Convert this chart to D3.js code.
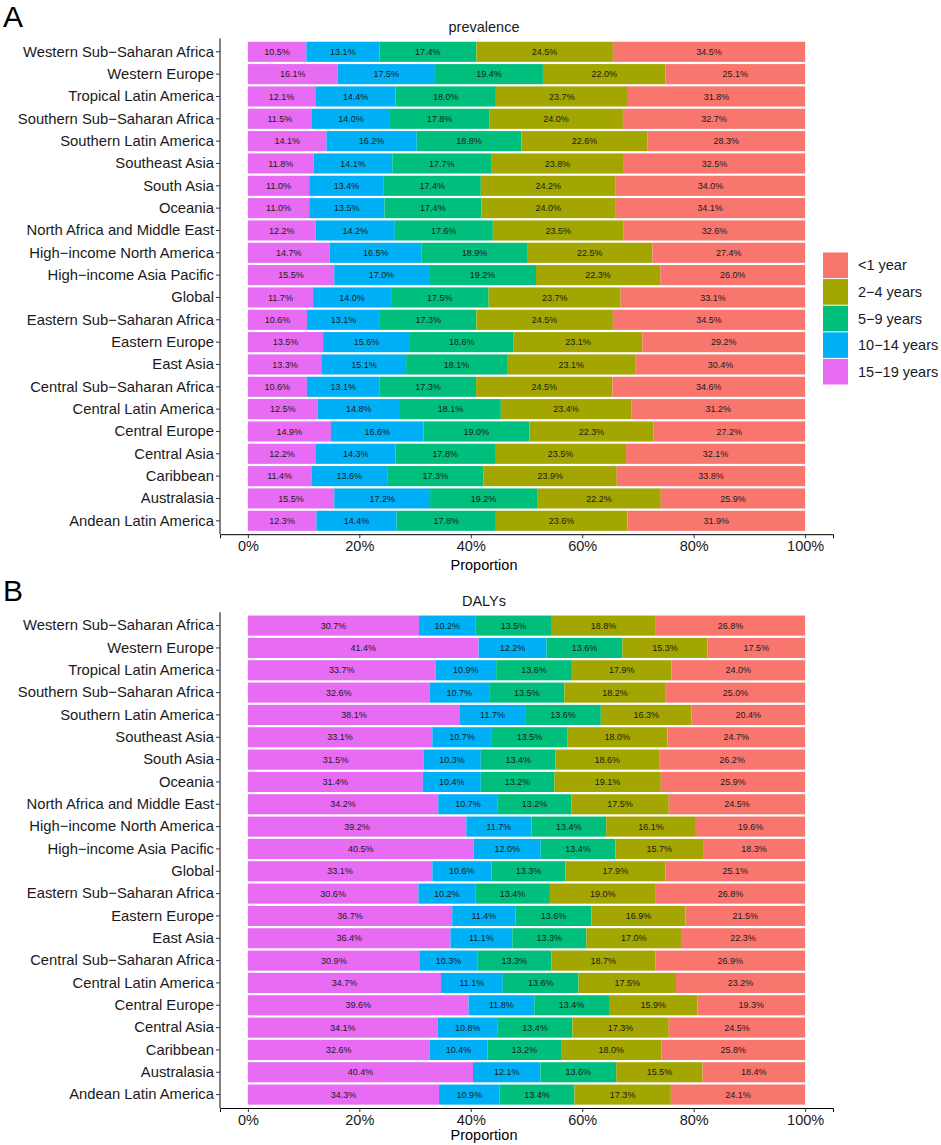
<!DOCTYPE html>
<html>
<head>
<meta charset="utf-8">
<script src="https://cdn.jsdelivr.net/npm/d3@7"></script>
<style>
  body { margin: 0; background: #fff; }
  svg text { font-family: "Liberation Sans", Arial, sans-serif; }
</style>
</head>
<body>
<div id="chart"></div>
<script>
// Regions, top to bottom
const regions = [
  'Western Sub\u2212Saharan Africa', 'Western Europe', 'Tropical Latin America',
  'Southern Sub\u2212Saharan Africa', 'Southern Latin America', 'Southeast Asia',
  'South Asia', 'Oceania', 'North Africa and Middle East', 'High\u2212income North America',
  'High\u2212income Asia Pacific', 'Global', 'Eastern Sub\u2212Saharan Africa', 'Eastern Europe',
  'East Asia', 'Central Sub\u2212Saharan Africa', 'Central Latin America', 'Central Europe',
  'Central Asia', 'Caribbean', 'Australasia', 'Andean Latin America'
];

// stacking order, left to right
const ageKeys = ['15\u221219 years', '10\u221214 years', '5\u22129 years', '2\u22124 years', '<1 year'];
const ageColors = ['#E76BF3', '#00B0F6', '#00BF7D', '#A3A500', '#F8766D'];

// prevalence (%)
const prev15to19 = [10.5,16.1,12.1,11.5,14.1,11.8,11.0,11.0,12.2,14.7,15.5,11.7,10.6,13.5,13.3,10.6,12.5,14.9,12.2,11.4,15.5,12.3];
const prev10to14 = [13.1,17.5,14.4,14.0,16.2,14.1,13.4,13.5,14.2,16.5,17.0,14.0,13.1,15.6,15.1,13.1,14.8,16.6,14.3,13.6,17.2,14.4];
const prev5to9   = [17.4,19.4,18.0,17.8,18.8,17.7,17.4,17.4,17.6,18.9,19.2,17.5,17.3,18.6,18.1,17.3,18.1,19.0,17.8,17.3,19.2,17.8];
const prev2to4   = [24.5,22.0,23.7,24.0,22.6,23.8,24.2,24.0,23.5,22.5,22.3,23.7,24.5,23.1,23.1,24.5,23.4,22.3,23.5,23.9,22.2,23.6];
const prevUnder1 = [34.5,25.1,31.8,32.7,28.3,32.5,34.0,34.1,32.6,27.4,26.0,33.1,34.5,29.2,30.4,34.6,31.2,27.2,32.1,33.8,25.9,31.9];

// DALYs (%)
const daly15to19 = [30.7,41.4,33.7,32.6,38.1,33.1,31.5,31.4,34.2,39.2,40.5,33.1,30.6,36.7,36.4,30.9,34.7,39.6,34.1,32.6,40.4,34.3];
const daly10to14 = [10.2,12.2,10.9,10.7,11.7,10.7,10.3,10.4,10.7,11.7,12.0,10.6,10.2,11.4,11.1,10.3,11.1,11.8,10.8,10.4,12.1,10.9];
const daly5to9   = [13.5,13.6,13.6,13.5,13.6,13.5,13.4,13.2,13.2,13.4,13.4,13.3,13.4,13.6,13.3,13.3,13.6,13.4,13.4,13.2,13.6,13.4];
const daly2to4   = [18.8,15.3,17.9,18.2,16.3,18.0,18.6,19.1,17.5,16.1,15.7,17.9,19.0,16.9,17.0,18.7,17.5,15.9,17.3,18.0,15.5,17.3];
const dalyUnder1 = [26.8,17.5,24.0,25.0,20.4,24.7,26.2,25.9,24.5,19.6,18.3,25.1,26.8,21.5,22.3,26.9,23.2,19.3,24.5,25.8,18.4,24.1];

const xTicks = [0, 0.2, 0.4, 0.6, 0.8, 1];

const W = 941, H = 1145;
const svg = d3.select('#chart').append('svg')
  .attr('width', W).attr('height', H);

const x = d3.scaleLinear().domain([-0.05, 1.05]).range([220, 833]);
const color = d3.scaleOrdinal().domain(ageKeys).range(ageColors);

function buildRows(cols) {
  return regions.map((r, i) => {
    const row = { region: r };
    ageKeys.forEach((k, j) => { row[k] = cols[j][i]; });
    return row;
  });
}

function drawPanel(letter, title, cols, top, bottom, xTitleGap) {
  const rows = buildRows(cols);
  const y = d3.scaleBand().domain(regions)
    .range([top, bottom]).paddingInner(0.1).paddingOuter(0.15);

  const series = d3.stack().keys(ageKeys).offset(d3.stackOffsetExpand)(rows);

  const g = svg.append('g');

  // panel letter + title
  svg.append('text').attr('x', 3).attr('y', top - 11)
    .attr('font-size', 30).attr('fill', '#000').text(letter);
  svg.append('text').attr('x', 484).attr('y', top - 6)
    .attr('text-anchor', 'middle').attr('font-size', 14.5).attr('fill', '#1a1a1a').text(title);

  // bars
  const layer = g.selectAll('g.layer').data(series).enter().append('g')
    .attr('fill', d => color(d.key));
  layer.selectAll('rect').data(d => d).enter().append('rect')
    .attr('x', d => x(d[0]))
    .attr('width', d => x(d[1]) - x(d[0]))
    .attr('y', d => y(d.data.region))
    .attr('height', y.bandwidth());

  // value labels
  series.forEach(s => {
    g.selectAll(null).data(s).enter().append('text')
      .attr('x', d => (x(d[0]) + x(d[1])) / 2)
      .attr('y', d => y(d.data.region) + y.bandwidth() / 2)
      .attr('dy', '0.35em')
      .attr('text-anchor', 'middle')
      .attr('font-size', 9)
      .attr('fill', '#1a1a1a')
      .text(d => d.data[s.key].toFixed(1) + '%');
  });

  // axes
  const yAxis = svg.append('g').attr('transform', `translate(${x.range()[0]},0)`)
    .call(d3.axisLeft(y).tickSizeOuter(0).tickSize(4).tickPadding(2));
  yAxis.select('.domain').attr('stroke', '#000').attr('d', `M0,${top}V${bottom}`);
  yAxis.selectAll('.tick line').attr('stroke', '#333');
  yAxis.selectAll('.tick text').attr('font-size', 14.8).attr('fill', '#1a1a1a')
    .style('font-family', '"Liberation Sans", Arial, sans-serif');

  const xAxis = svg.append('g').attr('transform', `translate(0,${bottom})`)
    .call(d3.axisBottom(x).tickValues(xTicks).tickFormat(d3.format('.0%'))
      .tickSizeOuter(0).tickSize(4).tickPadding(3));
  xAxis.select('.domain').attr('stroke', '#000');
  xAxis.selectAll('.tick line').attr('stroke', '#333');
  xAxis.selectAll('.tick text').attr('font-size', 14.5).attr('fill', '#1a1a1a')
    .style('font-family', '"Liberation Sans", Arial, sans-serif');

  svg.append('text').attr('x', 484).attr('y', bottom + xTitleGap)
    .attr('text-anchor', 'middle').attr('font-size', 14.5).attr('fill', '#000').text('Proportion');
}

drawPanel('A', 'prevalence', [prev15to19, prev10to14, prev5to9, prev2to4, prevUnder1], 38.4, 534.2, 36);
drawPanel('B', 'DALYs', [daly15to19, daly10to14, daly5to9, daly2to4, dalyUnder1], 612.2, 1108, 32);

// legend (reverse order: <1 year on top)
const legendKeys = ageKeys.slice().reverse();
const keyH = 26.6;
const legend = svg.append('g').attr('transform', 'translate(823,252)');
legend.selectAll('rect').data(legendKeys).enter().append('rect')
  .attr('x', 0).attr('y', (d, i) => i * keyH + 0.5)
  .attr('width', 25).attr('height', keyH - 1)
  .attr('fill', d => color(d));
legend.selectAll('text').data(legendKeys).enter().append('text')
  .attr('x', 35).attr('y', (d, i) => i * keyH + keyH / 2)
  .attr('dy', '0.35em').attr('font-size', 14.5).attr('fill', '#1a1a1a')
  .text(d => d);
</script>
</body>
</html>
